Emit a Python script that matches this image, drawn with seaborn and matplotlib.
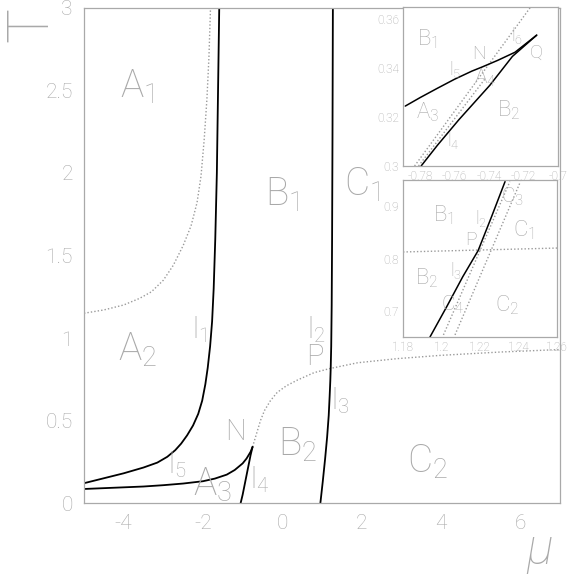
import matplotlib
matplotlib.use("Agg")
import matplotlib.pyplot as plt
from matplotlib.ticker import MultipleLocator, FormatStrFormatter
import seaborn as sns

# ---- main panel curves (mu, T) ----
l1_mu = [-5.0, -4.5, -4.0, -3.5, -3.15, -2.9, -2.7, -2.55, -2.4, -2.25, -2.12, -2.02, -1.94, -1.88,
         -1.82, -1.77, -1.73, -1.69, -1.65, -1.62, -1.59]
l1_T = [0.12, 0.15, 0.18, 0.215, 0.245, 0.28, 0.32, 0.36, 0.41, 0.47, 0.54, 0.62, 0.72, 0.82,
        0.95, 1.1, 1.3, 1.6, 2.0, 2.5, 3.0]

l5_mu = [-5.0, -4.5, -4.0, -3.5, -3.0, -2.5, -2.0, -1.7, -1.4, -1.2, -1.0, -0.9, -0.8, -0.75]
l5_T = [0.085, 0.09, 0.095, 0.1, 0.108, 0.118, 0.132, 0.148, 0.172, 0.2, 0.24, 0.27, 0.31, 0.34]

l4_mu = [-1.05, -1.0, -0.95, -0.9, -0.85, -0.8, -0.75]
l4_T = [0.0, 0.05, 0.11, 0.17, 0.23, 0.29, 0.34]

l23_mu = [0.96, 1.02, 1.08, 1.13, 1.17, 1.194, 1.21, 1.22, 1.233, 1.245, 1.255, 1.265, 1.275]
l23_T = [0.0, 0.13, 0.27, 0.40, 0.53, 0.65, 0.74, 0.815, 0.95, 1.2, 1.6, 2.2, 3.0]

dot_up_mu = [-5.0, -4.5, -4.0, -3.6, -3.3, -3.0, -2.75, -2.5, -2.3, -2.15, -2.05, -1.97, -1.9, -1.85, -1.81]
dot_up_T = [1.15, 1.17, 1.20, 1.24, 1.28, 1.35, 1.44, 1.56, 1.68, 1.82, 1.98, 2.2, 2.45, 2.7, 3.0]

dot_lo_mu = [-0.75, -0.65, -0.55, -0.45, -0.3, -0.13, 0.1, 0.38, 0.8, 1.2, 1.9, 2.9, 4.0, 5.5, 7.0]
dot_lo_T = [0.34, 0.42, 0.50, 0.56, 0.62, 0.67, 0.71, 0.745, 0.79, 0.815, 0.85, 0.875, 0.895, 0.915, 0.93]

# ---- inset 1 (near N, Q) ----
i1_l5_mu = [-0.7887, -0.78, -0.77, -0.76, -0.75, -0.744, -0.735, -0.725, -0.7124]
i1_l5_T = [0.3245, 0.328, 0.3318, 0.3355, 0.3388, 0.3405, 0.3432, 0.3465, 0.3535]
i1_l4_mu = [-0.7795, -0.77, -0.7576, -0.7396, -0.7265, -0.7124]
i1_l4_T = [0.300, 0.3085, 0.3189, 0.3330, 0.3448, 0.3535]
i1_dot_mu = [-0.7833, -0.7156]
i1_dot_T = [0.300, 0.3653]
i1_dot2_mu = [-0.7810, -0.7420]
i1_dot2_T = [0.300, 0.3360]

# ---- inset 2 (near P) ----
i2_l_mu = [1.194, 1.203, 1.211, 1.219, 1.226, 1.233]
i2_l_T = [0.65, 0.71, 0.765, 0.815, 0.88, 0.947]
i2_da_mu = [1.201, 1.2355]
i2_da_T = [0.654, 0.947]
i2_db_mu = [1.207, 1.241]
i2_db_T = [0.654, 0.947]
i2_h_mu = [1.18, 1.26]
i2_h_T = [0.8125, 0.82]

sns.set_style("white")
plt.rcParams['font.family'] = ['Roboto', 'DejaVu Sans']
plt.rcParams['mathtext.fontset'] = 'custom'
plt.rcParams['mathtext.rm'] = 'Roboto:light'
plt.rcParams['mathtext.it'] = 'Roboto:light'
plt.rcParams['axes.unicode_minus'] = True

grey = '#a9a9a9'
tw = 'light'
solid = dict(color='black', linewidth=1.3)
solid_in = dict(color='black', linewidth=1.1)
dotted = dict(color='#9a9a9a', linewidth=1.0, linestyle=(0, (1, 1.5)))

fig = plt.figure(figsize=(5.67, 5.75), dpi=100)
ax = fig.add_axes([0.1481, 0.1252, 0.8395, 0.8609])


def curve(a, mu, T, kw):
    sns.lineplot(x=mu, y=T, ax=a, sort=False, estimator=None, **kw)


def style_axes(a, size, major_len, pad):
    for sp in a.spines.values():
        sp.set_color(grey)
        sp.set_linewidth(0.9)
    a.tick_params(which='both', direction='in', colors=grey, labelcolor=grey,
                  top=False, right=False, labelsize=size, pad=pad)
    a.tick_params(which='major', length=major_len)
    a.tick_params(which='minor', length=major_len / 2)
    a.xaxis.set_major_formatter(FormatStrFormatter('%g'))
    a.yaxis.set_major_formatter(FormatStrFormatter('%g'))
    for lab in a.get_xticklabels() + a.get_yticklabels():
        lab.set_fontweight(tw)
    a.set_xlabel('')
    a.set_ylabel('')


def label(a, x, y, s, size):
    a.text(x, y, s, fontsize=size, color=grey, ha='center', va='center', fontweight=tw)


# main panel
curve(ax, dot_up_mu, dot_up_T, dotted)
curve(ax, dot_lo_mu, dot_lo_T, dotted)
curve(ax, l1_mu, l1_T, solid)
curve(ax, l5_mu, l5_T, solid)
curve(ax, l4_mu, l4_T, solid)
curve(ax, l23_mu, l23_T, solid)
ax.set_xlim(-5, 7)
ax.set_ylim(0, 3)
ax.xaxis.set_major_locator(MultipleLocator(2))
ax.xaxis.set_minor_locator(MultipleLocator(0.5))
ax.yaxis.set_major_locator(MultipleLocator(0.5))
ax.yaxis.set_minor_locator(MultipleLocator(0.1))
style_axes(ax, 15, 10, 8)

big = 28
for x, y, s in [(-3.65, 2.52, 'A$_1$'), (-3.65, 0.93, 'A$_2$'), (-1.76, 0.11, 'A$_3$'),
                (0.0, 1.87, 'B$_1$'), (0.38, 0.35, 'B$_2$'),
                (2.0, 1.93, 'C$_1$'), (3.65, 0.25, 'C$_2$')]:
    label(ax, x, y, s, big)
for x, y, s in [(-1.18, 0.43, 'N'), (0.81, 0.885, 'P')]:
    label(ax, x, y, s, 21)
for x, y, s in [(-2.08, 1.05, 'l$_1$'), (0.86, 1.05, 'l$_2$'), (1.46, 0.62, 'l$_3$'),
                (-0.58, 0.14, 'l$_4$'), (-2.64, 0.23, 'l$_5$')]:
    label(ax, x, y, s, 21)

fig.text(0.008, 0.957, 'T', rotation=90, fontsize=42, color=grey, ha='left', va='center', fontweight='light')
fig.text(0.952, 0.043, 'μ', fontsize=36, color=grey, ha='center', va='center', fontstyle='italic', fontweight='light')

# inset 1
ax1 = fig.add_axes([0.7108, 0.7113, 0.2734, 0.2765])
ax1.set_facecolor('white')
curve(ax1, i1_dot_mu, i1_dot_T, dotted)
curve(ax1, i1_dot2_mu, i1_dot2_T, dotted)
curve(ax1, i1_l5_mu, i1_l5_T, solid_in)
curve(ax1, i1_l4_mu, i1_l4_T, solid_in)
ax1.set_xlim(-0.79, -0.70)
ax1.set_ylim(0.3, 0.365)
ax1.xaxis.set_major_locator(MultipleLocator(0.02))
ax1.xaxis.set_minor_locator(MultipleLocator(0.005))
ax1.yaxis.set_major_locator(MultipleLocator(0.02))
ax1.yaxis.set_minor_locator(MultipleLocator(0.005))
style_axes(ax1, 8.5, 5, 3)
for x, y, s, fs in [(-0.7756, 0.3518, 'B$_1$', 16), (-0.7756, 0.322, 'A$_3$', 16),
                    (-0.7287, 0.323, 'B$_2$', 16), (-0.7424, 0.336, 'A$_4$', 15),
                    (-0.7456, 0.3456, 'N', 14), (-0.7129, 0.3464, 'Q', 14),
                    (-0.7600, 0.3395, 'l$_5$', 13), (-0.7610, 0.3105, 'l$_4$', 13),
                    (-0.7238, 0.3535, 'l$_6$', 13)]:
    label(ax1, x, y, s, fs)

# inset 2
ax2 = fig.add_axes([0.7108, 0.4139, 0.2716, 0.2730])
ax2.set_facecolor('white')
curve(ax2, i2_h_mu, i2_h_T, dotted)
curve(ax2, i2_da_mu, i2_da_T, dotted)
curve(ax2, i2_db_mu, i2_db_T, dotted)
curve(ax2, i2_l_mu, i2_l_T, solid_in)
ax2.set_xlim(1.18, 1.26)
ax2.set_ylim(0.65, 0.95)
ax2.xaxis.set_major_locator(MultipleLocator(0.02))
ax2.xaxis.set_minor_locator(MultipleLocator(0.005))
ax2.yaxis.set_major_locator(MultipleLocator(0.1))
ax2.yaxis.set_minor_locator(MultipleLocator(0.02))
style_axes(ax2, 8.5, 5, 3)
for x, y, s, fs in [(1.2008, 0.883, 'B$_1$', 16), (1.1925, 0.763, 'B$_2$', 16),
                    (1.243, 0.855, 'C$_1$', 16), (1.234, 0.711, 'C$_2$', 16),
                    (1.237, 0.918, 'C$_3$', 15), (1.206, 0.711, 'C$_4$', 15),
                    (1.2155, 0.836, 'P', 14), (1.2205, 0.876, 'l$_2$', 13),
                    (1.2075, 0.778, 'l$_3$', 13)]:
    label(ax2, x, y, s, fs)

fig.savefig('out.png', dpi=100)
